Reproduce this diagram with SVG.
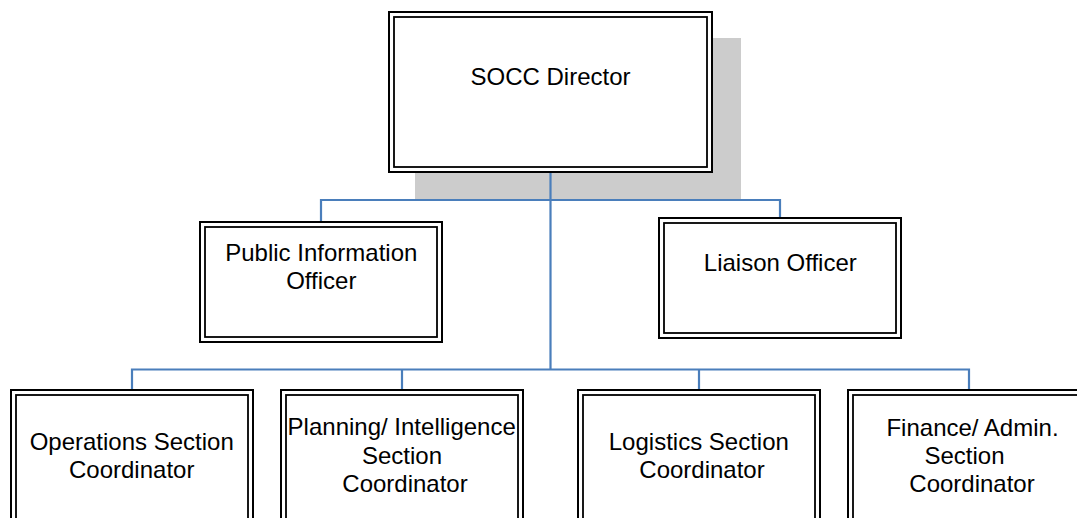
<svg xmlns="http://www.w3.org/2000/svg" width="1077" height="518" viewBox="0 0 1077 518">
<style>
.o{fill:#fff;stroke:#000;stroke-width:2}
.i{fill:none;stroke:#000;stroke-width:1.8}
.t{font-family:"Liberation Sans",Arial,sans-serif;font-size:24px;fill:#000;text-anchor:middle}
.c{fill:none;stroke:#4A7EBB;stroke-width:2.2}
</style>
<rect x="415" y="38" width="326" height="162" fill="#cccccc"/>
<g id="connectors">
<path class="c" d="M550.5 173V369.5M321 221V200H780V217M132 389V369.5H969V389M402 369.5V389M699 369.5V389"/>
</g>
<g id="director">
<rect class="o" x="389" y="12" width="323" height="160"/>
<rect class="i" x="394" y="17" width="313" height="150"/>
<text class="t" x="550.5" y="85">SOCC Director</text>
</g>
<g id="pio">
<rect class="o" x="200" y="222" width="242" height="120"/>
<rect class="i" x="205" y="227" width="232" height="110"/>
<text class="t" x="321.3" y="261">Public Information</text>
<text class="t" x="321.3" y="289">Officer</text>
</g>
<g id="liaison">
<rect class="o" x="659" y="218" width="242" height="120"/>
<rect class="i" x="664" y="223" width="232" height="110"/>
<text class="t" x="780.3" y="271">Liaison Officer</text>
</g>
<g id="operations">
<rect class="o" x="11" y="390" width="242" height="150"/>
<rect class="i" x="16" y="395" width="232" height="140"/>
<text class="t" x="131.7" y="450">Operations Section</text>
<text class="t" x="131.7" y="478">Coordinator</text>
</g>
<g id="planning">
<rect class="o" x="281" y="390" width="242" height="150"/>
<rect class="i" x="286" y="395" width="232" height="140"/>
<text class="t" x="401.7" y="435">Planning/ Intelligence</text>
<text class="t" x="402" y="463.5">Section</text>
<text class="t" x="405" y="492">Coordinator</text>
</g>
<g id="logistics">
<rect class="o" x="578" y="390" width="242" height="150"/>
<rect class="i" x="583" y="395" width="232" height="140"/>
<text class="t" x="698.8" y="450">Logistics Section</text>
<text class="t" x="702" y="478">Coordinator</text>
</g>
<g id="finance">
<rect class="o" x="848" y="390" width="242" height="150"/>
<rect class="i" x="853" y="395" width="232" height="140"/>
<text class="t" x="972.5" y="436">Finance/ Admin.</text>
<text class="t" x="964.5" y="464">Section</text>
<text class="t" x="972" y="492">Coordinator</text>
</g>
</svg>
